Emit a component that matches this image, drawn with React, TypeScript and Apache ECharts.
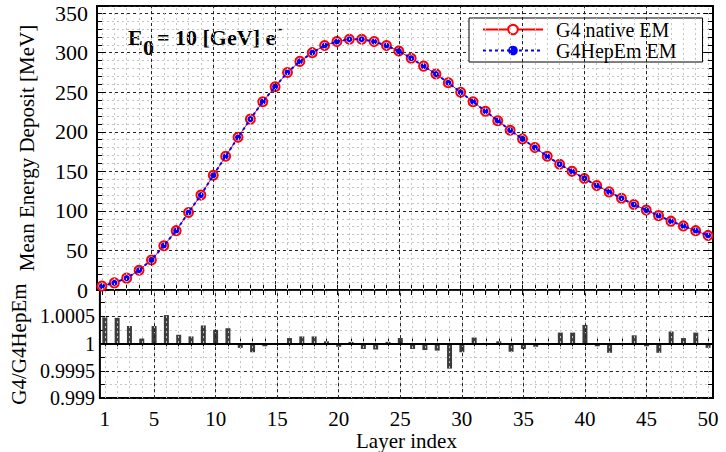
import React, { useEffect, useRef } from "react";
import * as echarts from "echarts";

const layers = [1,2,3,4,5,6,7,8,9,10,11,12,13,14,15,16,17,18,19,20,21,22,23,24,25,26,27,28,29,30,31,32,33,34,35,36,37,38,39,40,41,42,43,44,45,46,47,48,49,50];

const g4Native = [5,9,15,25,38,56,75,98,120,145,169,193,216,238,257,275,289,300,309,314,317,317,314,309,302,293,283,273,262,250,238,226,214,202,191,180,169,159,150,141,132,124,116,108,101,94,87,81,75,69];

const g4HepEm = [5,9,15,25,38,56,75,98,120,145,169,193,216,238,257,275,289,300,309,314,317,317,314,309,302,293,283,273,262,250,238,226,214,202,191,180,169,159,150,141,132,124,116,108,101,94,87,81,75,69];

const ratio = [1.00048,1.00047,1.00032,1.00009,1.00032,1.00052,1.00016,1.00013,1.00033,1.00025,1.00028,0.99992,0.99984,0.99995,1.00001,1.0001,1.00013,1.00013,1.00004,0.99994,1.00003,0.9999,0.99989,1.00003,1.0001,0.9999,0.99988,0.99987,0.99954,0.99984,1.00011,1.00001,1.00004,0.99985,0.9999,0.99994,0.99999,1.0002,1.0002,1.00034,0.99995,0.99983,1.00001,1.00015,0.99995,0.99983,1.00022,1.0001,1.0002,0.99992];

const xLabelValues = [1,5,10,15,20,25,30,35,40,45,50];
const majorGridX = [5,10,15,20,25,30,35,40,45];

const FONT = "Liberation Serif";

export default function App() {
  const ref = useRef<HTMLDivElement>(null);
  useEffect(() => {
    const chart = echarts.init(ref.current!, null, { renderer: "svg" });
    const majorLine = { color: "#222", type: [3, 3] as any, width: 1 };
    const minorLine = { color: "#c4c4c4", type: [2, 3] as any, width: 1 };
    const gridCommon = { left: 97, right: 13, show: true, borderColor: "#000", borderWidth: 2, backgroundColor: "transparent" };
    const xCommon = (gridIndex: number, position: string, labels: boolean) => ({
      type: "value",
      gridIndex,
      position,
      min: 0.6,
      max: 50.4,
      axisLine: { show: false },
      splitLine: { show: false },
      axisTick: { show: true, inside: true, length: 5, customValues: layers, lineStyle: { color: "#000", width: 1 } },
      axisLabel: labels
        ? { show: true, customValues: xLabelValues, fontFamily: FONT, fontSize: 21, color: "#000", margin: 10 }
        : { show: false },
    });
    const vgrid = (xi: number, yi: number, vals: number[], style: any) => ({
      type: "line",
      xAxisIndex: xi,
      yAxisIndex: yi,
      data: [],
      z: 1,
      silent: true,
      markLine: {
        silent: true,
        symbol: ["none", "none"],
        label: { show: false },
        lineStyle: style,
        emphasis: { disabled: true },
        data: vals.map((v) => ({ xAxis: v })),
      },
    });
    const option: any = {
      animation: false,
      backgroundColor: "#fff",
      grid: [
        { ...gridCommon, top: 6, height: 284 },
        { ...gridCommon, top: 290, height: 113 },
      ],
      xAxis: [
        xCommon(0, "bottom", false),
        xCommon(0, "top", false),
        {
          ...xCommon(1, "bottom", true),
          name: "Layer index",
          nameLocation: "middle",
          nameGap: 29,
          nameTextStyle: { fontFamily: FONT, fontSize: 21, color: "#000" },
        },
        xCommon(1, "top", false),
      ],
      yAxis: [
        {
          type: "value",
          gridIndex: 0,
          position: "left",
          min: 0,
          max: 359,
          interval: 50,
          axisLine: { show: false },
          axisTick: { show: true, inside: true, length: 9, lineStyle: { color: "#000" } },
          minorTick: { show: true, splitNumber: 5, length: 5, lineStyle: { color: "#000" } },
          splitLine: { show: true, lineStyle: majorLine },
          minorSplitLine: { show: true, lineStyle: minorLine },
          axisLabel: { fontFamily: FONT, fontSize: 22, color: "#000", margin: 9, showMaxLabel: false },
          name: "Mean Energy Deposit [MeV]",
          nameLocation: "middle",
          nameGap: 60,
          nameTextStyle: { fontFamily: FONT, fontSize: 21, color: "#000" },
        },
        {
          type: "value",
          gridIndex: 0,
          position: "right",
          min: 0,
          max: 359,
          interval: 50,
          axisLine: { show: false },
          axisTick: { show: true, inside: true, length: 9, lineStyle: { color: "#000" } },
          minorTick: { show: true, splitNumber: 5, length: 5, lineStyle: { color: "#000" } },
          splitLine: { show: false },
          axisLabel: { show: false },
        },
        {
          type: "value",
          gridIndex: 1,
          position: "left",
          min: -0.001,
          max: 0.00098,
          interval: 0.0005,
          axisLine: { show: false },
          axisTick: { show: true, inside: true, length: 9, lineStyle: { color: "#000" } },
          minorTick: { show: true, splitNumber: 2, length: 5, lineStyle: { color: "#000" } },
          splitLine: { show: true, lineStyle: majorLine },
          minorSplitLine: { show: true, lineStyle: minorLine },
          axisLabel: {
            fontFamily: FONT,
            fontSize: 20,
            color: "#000",
            margin: 5,
            showMaxLabel: false,
            formatter: (v: number) => String(parseFloat((1 + v).toFixed(5))),
          },
          name: "G4/G4HepEm",
          nameLocation: "middle",
          nameGap: 67,
          nameTextStyle: { fontFamily: FONT, fontSize: 21, color: "#000" },
        },
        {
          type: "value",
          gridIndex: 1,
          position: "right",
          min: -0.001,
          max: 0.00098,
          interval: 0.0005,
          axisLine: { show: false },
          axisTick: { show: true, inside: true, length: 9, lineStyle: { color: "#000" } },
          minorTick: { show: true, splitNumber: 2, length: 5, lineStyle: { color: "#000" } },
          splitLine: { show: false },
          axisLabel: { show: false },
        },
      ],
      legend: {
        data: ["G4 native EM", "G4HepEm EM"],
        orient: "vertical",
        left: 469,
        top: 18,
        backgroundColor: "#fff",
        borderColor: "#000",
        borderWidth: 1,
        borderRadius: 0,
        padding: [1, 26, 1, 13],
        itemGap: 0,
        itemWidth: 60,
        itemHeight: 12,
        selectedMode: false,
        formatter: (name: string) => "{t|" + name + "}",
        textStyle: {
          fontFamily: FONT,
          fontSize: 20,
          color: "#000",
          lineHeight: 21,
          rich: { t: { fontFamily: FONT, fontSize: 20, color: "#000", lineHeight: 21, padding: [0, 0, 0, 8] } },
        },
      },
      graphic: [
        { type: "text", left: 128, top: 26, style: { text: "E", font: `bold 22px "${FONT}"`, fill: "#000" } },
        { type: "text", left: 143, top: 36, style: { text: "0", font: `bold 22px "${FONT}"`, fill: "#000" } },
        { type: "text", left: 157, top: 26, style: { text: "= 10 [GeV] e", font: `bold 22px "${FONT}"`, fill: "#000" } },
        { type: "text", left: 277, top: 20, style: { text: "-", font: `bold 16px "${FONT}"`, fill: "#000" } },
      ],
      series: [
        vgrid(0, 0, layers, minorLine),
        vgrid(0, 0, majorGridX, majorLine),
        vgrid(2, 2, layers, minorLine),
        vgrid(2, 2, majorGridX, majorLine),
        {
          name: "G4 native EM",
          type: "line",
          xAxisIndex: 0,
          yAxisIndex: 0,
          z: 3,
          data: layers.map((x, i) => [x, g4Native[i]]),
          symbol: "emptyCircle",
          symbolSize: 9,
          lineStyle: { color: "#ff0000", width: 1 },
          itemStyle: { color: "#ff0000", borderColor: "#ff0000", borderWidth: 1 },
        },
        {
          name: "G4HepEm EM",
          type: "line",
          xAxisIndex: 0,
          yAxisIndex: 0,
          z: 4,
          data: layers.map((x, i) => [x, g4HepEm[i]]),
          symbol: "circle",
          symbolSize: 6,
          lineStyle: { color: "#0000ff", width: 2, type: [3, 3] },
          itemStyle: { color: "#0000ff" },
        },
        {
          name: "ratio",
          type: "bar",
          xAxisIndex: 2,
          yAxisIndex: 2,
          z: 3,
          barWidth: 5,
          data: layers.map((x, i) => [x, ratio[i] - 1]),
          itemStyle: { color: "#3c3c3c" },
          markLine: {
            silent: true,
            symbol: ["none", "none"],
            label: { show: false },
            lineStyle: { color: "#000", type: "solid", width: 2 },
            data: [{ yAxis: 0 }],
          },
        },
      ],
    };
    chart.setOption(option);
    return () => chart.dispose();
  }, []);
  return <div ref={ref} style={{ position: "fixed", left: 0, top: 0, width: 726, height: 452 }} />;
}
